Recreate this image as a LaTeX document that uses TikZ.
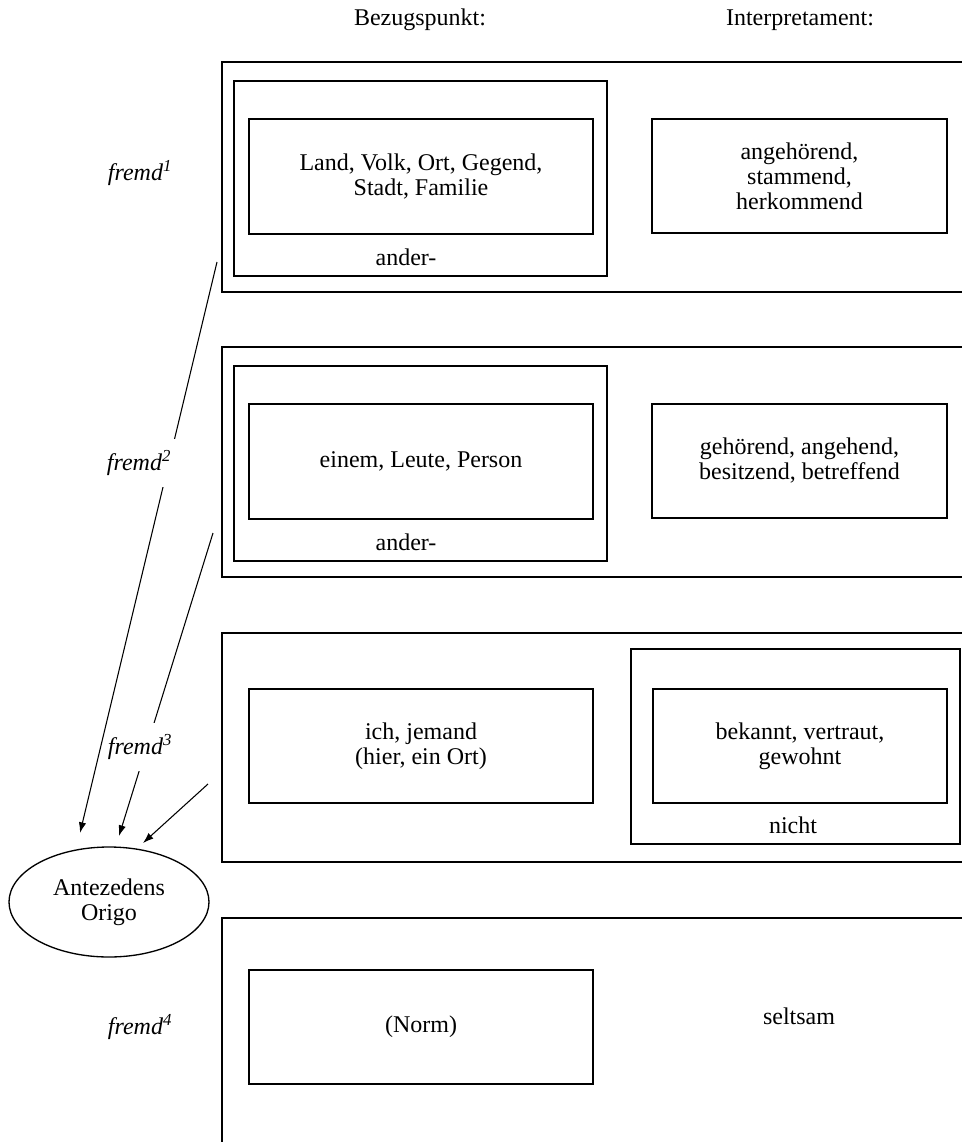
\documentclass[tikz,border=0pt]{standalone}
\usepackage{fontspec}
\setmainfont{Liberation Serif}
\usetikzlibrary{shapes.geometric,arrows.meta}
\tikzset{every node/.style={font=\fontsize{18}{18.75}\selectfont, align=center},
  rahmen/.style 2 args={draw, line width=1pt, inner sep=0pt, minimum width=#1*0.75pt, minimum height=#2*0.75pt},
  fremd/.style={font=\fontsize{18}{18.75}\selectfont\itshape, fill=white, inner xsep=0.5pt, inner ysep=9pt},
  pfeil/.style={line width=0.8pt, -{Latex[length=8pt,width=5.5pt]}}}

\begin{document}
\begin{tikzpicture}[x=0.75pt,y=-0.75pt]
   \useasboundingbox (0,0) rectangle (962,1142);
   \clip (0,0) rectangle (962,1142);
   \node (bezug)  at (420,20) {Bezugspunkt:};
   \node (interp) at (800,20) {Interpretament:};
   % fremd1
   \node[rahmen={778}{230}] (zeileA) at (611,177) {};
   \node[rahmen={373}{195}] (anderA) at (420.5,178.5) {};
   \node[rahmen={344}{115}] (bezA) at (421,176.5) {Land, Volk, Ort, Gegend,\\Stadt, Familie};
   \node[rahmen={295}{114}] (intA) at (799.5,176) {angehörend,\\stammend,\\herkommend};
   \node (andA) at (406,257) {ander-};
   % fremd2
   \node[rahmen={778}{230}] (zeileB) at (611,462) {};
   \node[rahmen={373}{195}] (anderB) at (420.5,463.5) {};
   \node[rahmen={344}{115}] (bezB) at (421,461.5) {einem, Leute, Person};
   \node[rahmen={295}{114}] (intB) at (799.5,461) {gehörend, angehend,\\besitzend, betreffend};
   \node (andB) at (406,542) {ander-};
   % fremd3
   \node[rahmen={778}{229}] (zeileC) at (611,747.5) {};
   \node[rahmen={344}{114}] (bezC) at (421,746) {ich, jemand\\(hier, ein Ort)};
   \node[rahmen={329}{195}] (nichtC) at (795.5,746.5) {};
   \node[rahmen={294}{114}] (intC) at (800,746) {bekannt, vertraut,\\gewohnt};
   \node (nicht) at (793,825) {nicht};
   % fremd4
   \node[rahmen={778}{282}] (zeileD) at (611,1059) {};
   \node[rahmen={344}{114}] (bezD) at (421,1027) {(Norm)};
   \node (seltsam) at (799,1016) {seltsam};
   % Origo
   \node[draw, ellipse, line width=1pt, inner sep=0pt, minimum width=200*0.75pt, minimum height=110*0.75pt] (origo) at (109,902) {Antezedens\\Origo};
   \coordinate (vonA) at (217,262); \coordinate (bisA) at (80,833);
   \coordinate (vonB) at (213,533); \coordinate (bisB) at (119,836);
   \coordinate (vonC) at (208,784); \coordinate (bisC) at (143,843);
   \foreach \z in {A,B,C}
     \draw[pfeil] (von\z) -- (bis\z);
   \node[fremd] (fremd1) at (140,173) {fremd\textsuperscript{1}};
   \node[fremd, inner xsep=4pt] (fremd2) at (139,463) {fremd\textsuperscript{2}};
   \node[fremd] (fremd3) at (140,747) {fremd\textsuperscript{3}};
   \node[fremd] (fremd4) at (140,1027) {fremd\textsuperscript{4}};
\end{tikzpicture}
\end{document}
